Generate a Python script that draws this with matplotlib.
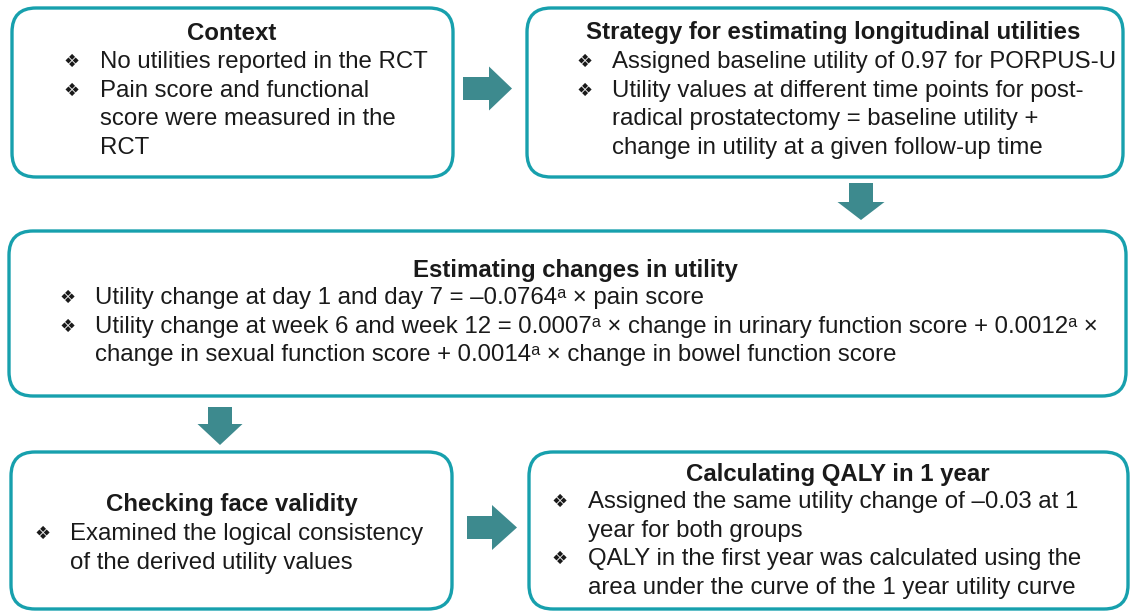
import matplotlib
matplotlib.use("Agg")
import matplotlib.pyplot as plt
from matplotlib.patches import FancyBboxPatch, FancyArrow

# ---- content ----
box_titles = [
    "Context",
    "Strategy for estimating longitudinal utilities",
    "Estimating changes in utility",
    "Checking face validity",
    "Calculating QALY in 1 year",
]
context_lines = [
    ("❖", "No utilities reported in the RCT"),
    ("❖", "Pain score and functional"),
    ("", "score were measured in the"),
    ("", "RCT"),
]
strategy_lines = [
    ("❖", "Assigned baseline utility of 0.97 for PORPUS-U"),
    ("❖", "Utility values at different time points for post-"),
    ("", "radical prostatectomy = baseline utility +"),
    ("", "change in utility at a given follow-up time"),
]
estimating_lines = [
    ("❖", "Utility change at day 1 and day 7 = \u20130.0764ᵃ × pain score"),
    ("❖", "Utility change at week 6 and week 12 = 0.0007ᵃ × change in urinary function score + 0.0012ᵃ ×"),
    ("", "change in sexual function score + 0.0014ᵃ × change in bowel function score"),
]
checking_lines = [
    ("❖", "Examined the logical consistency"),
    ("", "of the derived utility values"),
]
qaly_lines = [
    ("❖", "Assigned the same utility change of \u20130.03 at 1"),
    ("", "year for both groups"),
    ("❖", "QALY in the first year was calculated using the"),
    ("", "area under the curve of the 1 year utility curve"),
]
box_lines = [context_lines, strategy_lines, estimating_lines, checking_lines, qaly_lines]

# ---- layout (pixels) ----
W, H = 1132, 613
boxes = [  # x0, y0, x1, y1
    (12, 8, 453, 177),
    (527, 8, 1123, 177),
    (9, 231, 1126, 396),
    (11, 452, 452, 609),
    (529, 452, 1128, 609),
]
title_pos = [(232, 33), (833, 33), (575, 270), (232, 505), (838, 474)]
bullet_x = [72, 585, 68, 43, 560]
text_x = [100, 612, 95, 70, 588]
first_line_y = [62, 62, 298, 534, 502]
line_step = 28.6

border_color = "#17a0ad"
arrow_color = "#3d8a8e"
text_color = "#1a1a1a"
fs = 17.3
fam = ["Liberation Sans", "DejaVu Sans"]

fig = plt.figure(figsize=(W / 100, H / 100), dpi=100)
ax = fig.add_axes([0, 0, 1, 1])
ax.set_xlim(0, W)
ax.set_ylim(H, 0)
ax.axis("off")

for i, (x0, y0, x1, y1) in enumerate(boxes):
    ax.add_patch(FancyBboxPatch((x0, y0), x1 - x0, y1 - y0,
                                boxstyle="round,pad=0,rounding_size=24",
                                fc="white", ec=border_color, lw=2.4))
    tx, ty = title_pos[i]
    ax.text(tx, ty, box_titles[i], ha="center", va="center", fontsize=fs,
            fontweight="bold", family=fam, color=text_color)
    for j, (b, t) in enumerate(box_lines[i]):
        y = first_line_y[i] + j * line_step
        if b:
            ax.text(bullet_x[i], y, b, ha="center", va="center", fontsize=13,
                    family=["DejaVu Sans"], color=text_color)
        ax.text(text_x[i], y, t, ha="left", va="center", fontsize=fs,
                family=fam, color=text_color)

# arrows: (x, y, dx, dy, body width, head width, head length)
arrows = [
    (463, 88.5, 49, 0, 23, 44, 23),
    (861, 183, 0, 37, 24, 47, 18),
    (220, 407, 0, 38, 24, 45, 21),
    (467, 527.5, 50, 0, 23, 45, 25),
]
for x, y, dx, dy, bw, hw, hl in arrows:
    ax.add_patch(FancyArrow(x, y, dx, dy, width=bw, head_width=hw, head_length=hl,
                            length_includes_head=True, fc=arrow_color, ec="none"))

fig.savefig("out.png", dpi=100, facecolor="white")
